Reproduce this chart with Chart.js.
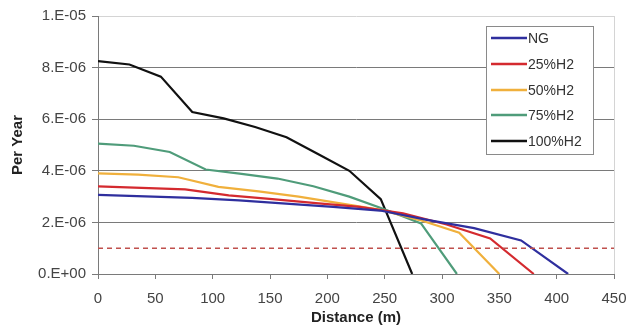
<!DOCTYPE html>
<html>
<head>
<meta charset="utf-8">
<script src="https://cdn.jsdelivr.net/npm/chart.js@4/dist/chart.umd.min.js"></script>
<style>
html,body{margin:0;padding:0;background:#fff;}
canvas{display:block;}
</style>
</head>
<body>
<canvas id="c" width="629" height="327"></canvas>
<script>
// ---- data ----
const seriesLabels = ['NG', '25%H2', '50%H2', '75%H2', '100%H2'];

const ngX   = [0, 41, 82, 123, 164, 205, 246, 287, 328, 369, 410];
const ngY   = [3.07e-6, 3.01e-6, 2.95e-6, 2.85e-6, 2.73e-6, 2.60e-6, 2.46e-6, 2.10e-6, 1.78e-6, 1.30e-6, 0];

const h25X  = [0, 38, 76, 114, 152, 190, 228, 266, 304, 342, 380];
const h25Y  = [3.40e-6, 3.34e-6, 3.28e-6, 3.05e-6, 2.90e-6, 2.75e-6, 2.60e-6, 2.35e-6, 1.92e-6, 1.38e-6, 0];

const h50X  = [0, 35, 70, 105, 140, 175, 210, 245, 280, 315, 350];
const h50Y  = [3.90e-6, 3.85e-6, 3.75e-6, 3.38e-6, 3.20e-6, 3.00e-6, 2.75e-6, 2.50e-6, 2.10e-6, 1.60e-6, 0];

const h75X  = [0, 31.3, 62.6, 93.9, 125.2, 156.5, 187.8, 219.1, 250.4, 281.7, 313];
const h75Y  = [5.05e-6, 4.97e-6, 4.73e-6, 4.05e-6, 3.88e-6, 3.70e-6, 3.40e-6, 3.00e-6, 2.50e-6, 1.96e-6, 0];

const h100X = [0, 27.4, 54.8, 82.2, 109.6, 137, 164.4, 191.8, 219.2, 246.6, 274];
const h100Y = [8.25e-6, 8.12e-6, 7.65e-6, 6.28e-6, 6.03e-6, 5.70e-6, 5.30e-6, 4.65e-6, 4.00e-6, 2.90e-6, 0];

const thresholdX = [0, 450];
const thresholdY = [1e-6, 1e-6];

const yTickLabels = ['0.E+00', '2.E-06', '4.E-06', '6.E-06', '8.E-06', '1.E-05'];
const xTickValues = [0, 50, 100, 150, 200, 250, 300, 350, 400, 450];

const seriesColors = ['#2f2f9e', '#d42a2f', '#f0b03c', '#4f9c7a', '#111111'];

// ---- build ----
function pts(xs, ys) { return xs.map((x, i) => ({ x: x, y: ys[i] })); }
const seriesXs = [ngX, h25X, h50X, h75X, h100X];
const seriesYs = [ngY, h25Y, h50Y, h75Y, h100Y];

const datasets = seriesLabels.map((lab, i) => ({
  label: lab,
  data: pts(seriesXs[i], seriesYs[i]),
  borderColor: seriesColors[i],
  backgroundColor: seriesColors[i],
  borderWidth: 2.2,
  pointRadius: 0,
  tension: 0,
  showLine: true,
  fill: false
}));
datasets.unshift({
  label: 'threshold',
  data: pts(thresholdX, thresholdY),
  borderColor: '#c0504d',
  borderWidth: 1.5,
  borderDash: [5, 4],
  pointRadius: 0,
  showLine: true,
  fill: false
});

const FONT = "'Liberation Sans', Arial, sans-serif";

const extras = {
  id: 'extras',
  afterDatasetsDraw(chart) {
    const ctx = chart.ctx;
    const a = chart.chartArea;
    ctx.save();
    // right border
    ctx.strokeStyle = '#d4d4d4';
    ctx.lineWidth = 1;
    ctx.beginPath();
    ctx.moveTo(Math.round(a.right) + 0.5, a.top);
    ctx.lineTo(Math.round(a.right) + 0.5, a.bottom);
    ctx.stroke();
    // legend box
    const bx = 486, by = 26, bw = 107, bh = 128;
    ctx.fillStyle = '#ffffff';
    ctx.fillRect(bx, by, bw, bh);
    ctx.strokeStyle = '#8a8a8a';
    ctx.strokeRect(bx + 0.5, by + 0.5, bw, bh);
    const rowY = [38, 64, 90, 115, 141];
    ctx.font = '14px ' + FONT;
    ctx.textBaseline = 'middle';
    ctx.textAlign = 'left';
    const ds = chart.data.datasets.filter(d => d.label !== 'threshold');
    ds.forEach((d, i) => {
      ctx.strokeStyle = d.borderColor;
      ctx.lineWidth = 2.5;
      ctx.beginPath();
      ctx.moveTo(491, rowY[i]);
      ctx.lineTo(527, rowY[i]);
      ctx.stroke();
      ctx.fillStyle = '#333333';
      ctx.fillText(d.label, 528, rowY[i] + 1);
    });
    ctx.restore();
  }
};

new Chart(document.getElementById('c'), {
  type: 'scatter',
  data: { datasets: datasets },
  options: {
    responsive: false,
    animation: false,
    devicePixelRatio: 1,
    layout: { padding: { left: 0, right: 15, top: 16, bottom: 0 } },
    plugins: { legend: { display: false }, tooltip: { enabled: false } },
    scales: {
      x: {
        type: 'linear',
        min: 0, max: 450,
        afterFit(s) { s.height = 53; s.paddingLeft = 0; s.paddingRight = 0; },
        afterBuildTicks(s) { s.ticks = xTickValues.map(v => ({ value: v })); },
        border: { display: true, color: '#7a7a7a', width: 1 },
        grid: { drawOnChartArea: false, drawTicks: true, tickLength: 5, color: '#7a7a7a' },
        ticks: { color: '#444', font: { family: FONT, size: 15 }, padding: 11, maxRotation: 0 },
        title: { display: true, text: 'Distance (m)', color: '#222', font: { family: FONT, size: 15, weight: 'bold' }, padding: { top: 1, bottom: 0 } }
      },
      y: {
        type: 'linear',
        min: 0, max: 1e-5,
        afterFit(s) { s.width = 98; s.paddingTop = 0; s.paddingBottom = 0; },
        afterBuildTicks(s) { s.ticks = yTickLabels.map((t, i) => ({ value: i * 2e-6 })); },
        border: { display: true, color: '#7a7a7a', width: 1 },
        grid: {
          drawTicks: true, tickLength: 6,
          color: c => (c.index === yTickLabels.length - 1 ? '#d4d4d4' : '#7a7a7a'),
          tickColor: '#7a7a7a',
          lineWidth: 1
        },
        ticks: {
          color: '#444', font: { family: FONT, size: 15 }, padding: 6,
          callback: (v, i) => yTickLabels[i]
        },
        title: { display: true, text: 'Per Year', color: '#222', font: { family: FONT, size: 15, weight: 'bold' }, padding: { top: 9, bottom: 0 } }
      }
    }
  },
  plugins: [extras]
});
</script>
</body>
</html>
